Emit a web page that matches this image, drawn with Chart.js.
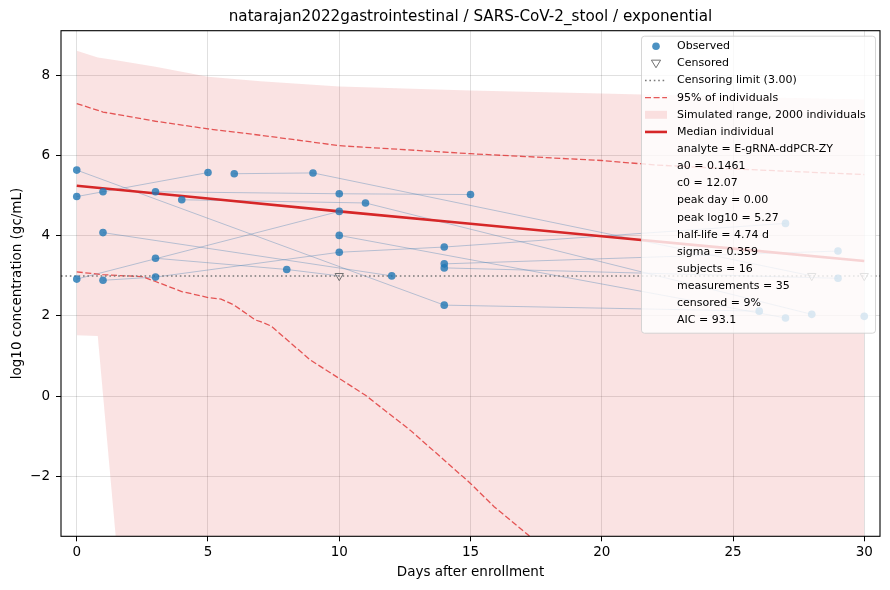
<!DOCTYPE html>
<html>
<head>
<meta charset="utf-8">
<title>natarajan2022gastrointestinal</title>
<script src="https://cdn.jsdelivr.net/npm/chart.js@4.4.1/dist/chart.umd.min.js"></script>
<style>
  html, body { margin: 0; padding: 0; background: #fff; }
  #wrap { width: 890px; height: 590px; }
</style>
</head>
<body>
<div id="wrap"><canvas id="chart" width="890" height="590"></canvas></div>
<script>
var TITLE = 'natarajan2022gastrointestinal / SARS-CoV-2_stool / exponential';
var CENSOR_LIMIT = 3.0;

// one row per subject: sampling days, log10 values, censored flags
var subjectDays = [
  [0, 14, 26], [0, 5], [1], [3, 10, 15], [6, 9, 28], [4, 11, 28], [0, 10], [3, 8, 10],
  [14, 29], [1, 12], [1, 3, 10, 14, 27], [10, 27], [14, 29], [30], [30]
];
var subjectValues = [
  [5.64, 2.27, 2.12], [4.98, 5.58], [5.10], [5.10, 5.05, 5.03], [5.55, 5.57, 3.00],
  [4.90, 4.82, 2.04], [2.92, 4.61], [3.44, 3.16, 3.00], [3.20, 2.94], [4.08, 3.00],
  [2.89, 2.97, 3.59, 3.72, 4.31], [4.01, 1.95], [3.30, 3.62], [1.99], [3.00]
];
var subjectCensored = [
  [0, 0, 0], [0, 0], [0], [0, 0, 0], [0, 0, 1], [0, 0, 0], [0, 0], [0, 0, 1],
  [0, 0], [0, 0], [0, 0, 0, 0, 0], [0, 0], [0, 0], [0], [1]
];

// simulated range of 2000 individuals
var bandDays  = [0, 0.8, 1.5, 3, 5, 7, 10, 15, 20, 25, 30];
var bandUpper = [8.62, 8.45, 8.38, 8.22, 7.97, 7.86, 7.73, 7.63, 7.55, 7.47, 7.40];
var bandLower = [1.52, 1.50, -3.62, -10, -10, -10, -10, -10, -10, -10, -10];

// 95% of individuals
var upper95Days = [0, 1, 3, 5, 7, 8.3, 10, 15, 20, 22, 25, 30];
var upper95     = [7.30, 7.09, 6.86, 6.67, 6.51, 6.40, 6.25, 6.05, 5.88, 5.77, 5.67, 5.53];
var lower95Days = [0, 1, 2.5, 3, 4, 5, 5.5, 6, 6.8, 7, 7.4, 8.9, 10, 11, 12.7, 14, 15, 15.9, 17.2, 18];
var lower95     = [3.10, 3.03, 2.98, 2.86, 2.61, 2.46, 2.42, 2.27, 1.90, 1.86, 1.75, 0.90, 0.44, 0.02, -0.85, -1.60, -2.18, -2.76, -3.47, -3.95];

// median individual
var medianDays = [0, 5, 10, 15, 20, 25, 30];
var median     = [5.25, 4.93, 4.61, 4.30, 3.99, 3.68, 3.37];

var xTicks = [0, 5, 10, 15, 20, 25, 30];
var yTicks = [-2, 0, 2, 4, 6, 8];

var statLines = [
  'analyte = E-gRNA-ddPCR-ZY',
  'a0 = 0.1461',
  'c0 = 12.07',
  'peak day = 0.00',
  'peak log10 = 5.27',
  'half-life = 4.74 d',
  'sigma = 0.359',
  'subjects = 16',
  'measurements = 35',
  'censored = 9%',
  'AIC = 93.1'
];

var RED = '#d62728';
var BLUE = 'rgba(31,119,180,0.8)';
var FONT = '"DejaVu Sans", "Liberation Sans", sans-serif';

function toXY(xs, ys) {
  return xs.map(function (x, i) { return { x: x, y: ys[i] }; });
}

var observed = [], censored = [];
subjectDays.forEach(function (days, s) {
  days.forEach(function (d, i) {
    var p = { x: d, y: subjectValues[s][i] };
    if (subjectCensored[s][i]) censored.push(p); else observed.push(p);
  });
});

var datasets = [
  { label: 'Observed', data: observed, pointRadius: 3.8, pointHoverRadius: 3.8,
    backgroundColor: BLUE, borderColor: BLUE, borderWidth: 0, showLine: false },
  { label: 'Censored', data: censored, pointStyle: 'triangle', pointRotation: 180,
    pointRadius: 4.8, pointHoverRadius: 4.8, backgroundColor: 'rgba(0,0,0,0)',
    borderColor: '#707070', borderWidth: 1, showLine: false },
  { label: 'Median individual', data: toXY(medianDays, median), showLine: true,
    borderColor: RED, borderWidth: 2.6, pointRadius: 0 },
  { label: 'Censoring limit', data: [{ x: -0.6, y: CENSOR_LIMIT }, { x: 30.6, y: CENSOR_LIMIT }],
    showLine: true, borderColor: '#7a7a7a', borderWidth: 1.5, borderDash: [1.6, 2.8], pointRadius: 0 },
  { label: '95% upper', data: toXY(upper95Days, upper95), showLine: true,
    borderColor: 'rgba(224,60,60,0.85)', borderWidth: 1.3, borderDash: [6, 2.6], pointRadius: 0 },
  { label: '95% lower', data: toXY(lower95Days, lower95), showLine: true,
    borderColor: 'rgba(224,60,60,0.85)', borderWidth: 1.3, borderDash: [6, 2.6], pointRadius: 0 }
];

subjectDays.forEach(function (days, s) {
  datasets.push({ label: 'subject ' + (s + 1), data: toXY(days, subjectValues[s]), showLine: true,
    borderColor: 'rgba(70,130,180,0.38)', borderWidth: 1, pointRadius: 0 });
});

var bandIndex = datasets.length;
datasets.push({ label: 'Simulated upper', data: toXY(bandDays, bandUpper), showLine: true,
  borderWidth: 0, borderColor: 'rgba(0,0,0,0)', pointRadius: 0,
  fill: { target: bandIndex + 1 }, backgroundColor: 'rgba(214,39,40,0.13)' });
datasets.push({ label: 'Simulated lower', data: toXY(bandDays, bandLower), showLine: true,
  borderWidth: 0, borderColor: 'rgba(0,0,0,0)', pointRadius: 0, fill: false });

function drawLegend(chart) {
  var ctx = chart.ctx, area = chart.chartArea;
  var w = 234, h = 297;
  var left = area.right - 5 - w, top = area.top + 5;
  var step = 17.15, y0 = top + 10.5;
  var hx = left + 15, lx0 = left + 4, lx1 = left + 26, tx = left + 36;

  ctx.save();
  ctx.beginPath();
  ctx.roundRect(left + 0.5, top + 0.5, w, h, 3);
  ctx.fillStyle = 'rgba(255,255,255,0.8)';
  ctx.fill();
  ctx.strokeStyle = 'rgba(204,204,204,0.8)';
  ctx.lineWidth = 1;
  ctx.stroke();

  // handles
  ctx.fillStyle = BLUE;
  ctx.beginPath();
  ctx.arc(hx, y0, 3.8, 0, Math.PI * 2);
  ctx.fill();

  var ty = y0 + step;
  ctx.strokeStyle = '#707070';
  ctx.beginPath();
  ctx.moveTo(hx - 4.6, ty - 3.2);
  ctx.lineTo(hx + 4.6, ty - 3.2);
  ctx.lineTo(hx, ty + 4.4);
  ctx.closePath();
  ctx.stroke();

  function handleLine(row, color, width, dash) {
    var y = y0 + step * row;
    ctx.strokeStyle = color;
    ctx.lineWidth = width;
    ctx.setLineDash(dash);
    ctx.beginPath();
    ctx.moveTo(lx0, y);
    ctx.lineTo(lx1, y);
    ctx.stroke();
    ctx.setLineDash([]);
  }
  handleLine(2, '#7a7a7a', 1.5, [1.6, 2.8]);
  handleLine(3, 'rgba(224,60,60,0.85)', 1.3, [6, 2.6]);
  ctx.fillStyle = 'rgba(214,39,40,0.13)';
  ctx.fillRect(lx0, y0 + step * 4 - 4, lx1 - lx0, 8);
  handleLine(5, RED, 2.6, []);

  var labels = ['Observed', 'Censored', 'Censoring limit (' + CENSOR_LIMIT.toFixed(2) + ')',
    '95% of individuals', 'Simulated range, 2000 individuals', 'Median individual'].concat(statLines);
  ctx.fillStyle = '#000';
  ctx.font = '11px ' + FONT;
  ctx.textBaseline = 'middle';
  ctx.textAlign = 'left';
  labels.forEach(function (t, i) { ctx.fillText(t, tx, y0 + step * i); });
  ctx.restore();
}

var framePlugin = {
  id: 'frameAndLegend',
  afterDraw: function (chart) {
    var ctx = chart.ctx, a = chart.chartArea;
    ctx.save();
    ctx.strokeStyle = '#000';
    ctx.lineWidth = 1.1;
    ctx.strokeRect(a.left, a.top, a.right - a.left, a.bottom - a.top);
    // title centred over the plot area
    ctx.fillStyle = '#000';
    ctx.font = '15.2px ' + FONT;
    ctx.textAlign = 'center';
    ctx.textBaseline = 'middle';
    ctx.fillText(TITLE, (a.left + a.right) / 2, 17);
    ctx.restore();
    drawLegend(chart);
  }
};

function minusLabel(v) { return v < 0 ? '\u2212' + Math.abs(v) : String(v); }

new Chart(document.getElementById('chart').getContext('2d'), {
  type: 'scatter',
  data: { datasets: datasets },
  plugins: [framePlugin],
  options: {
    responsive: false,
    animation: false,
    devicePixelRatio: 1,
    layout: { padding: { left: 0, right: 10, top: 30.7, bottom: 0 } },
    plugins: {
      legend: { display: false },
      tooltip: { enabled: false },
      title: { display: false }
    },
    scales: {
      x: {
        type: 'linear', min: -0.6, max: 30.6,
        afterBuildTicks: function (scale) { scale.ticks = xTicks.map(function (v) { return { value: v }; }); },
        afterFit: function (scale) { scale.height = 53.7; },
        grid: { color: 'rgba(0,0,0,0.12)', tickColor: '#000', tickLength: 5, drawTicks: true },
        border: { display: false },
        ticks: { color: '#000', padding: 3, maxRotation: 0, font: { family: FONT, size: 13.5 },
          callback: minusLabel },
        title: { display: true, text: 'Days after enrollment', color: '#000',
          font: { family: FONT, size: 13.5 }, padding: { top: 0, bottom: 9.9 } }
      },
      y: {
        type: 'linear', min: -3.5, max: 9.12,
        afterBuildTicks: function (scale) { scale.ticks = yTicks.map(function (v) { return { value: v }; }); },
        afterFit: function (scale) { scale.width = 61; },
        grid: { color: 'rgba(0,0,0,0.12)', tickColor: '#000', tickLength: 5, drawTicks: true },
        border: { display: false },
        ticks: { color: '#000', padding: 6, font: { family: FONT, size: 13.5 }, callback: minusLabel },
        title: { display: true, text: 'log10 concentration (gc/mL)', color: '#000',
          font: { family: FONT, size: 13.5 }, padding: { top: 8.9, bottom: 0 } }
      }
    }
  }
});
</script>
</body>
</html>
